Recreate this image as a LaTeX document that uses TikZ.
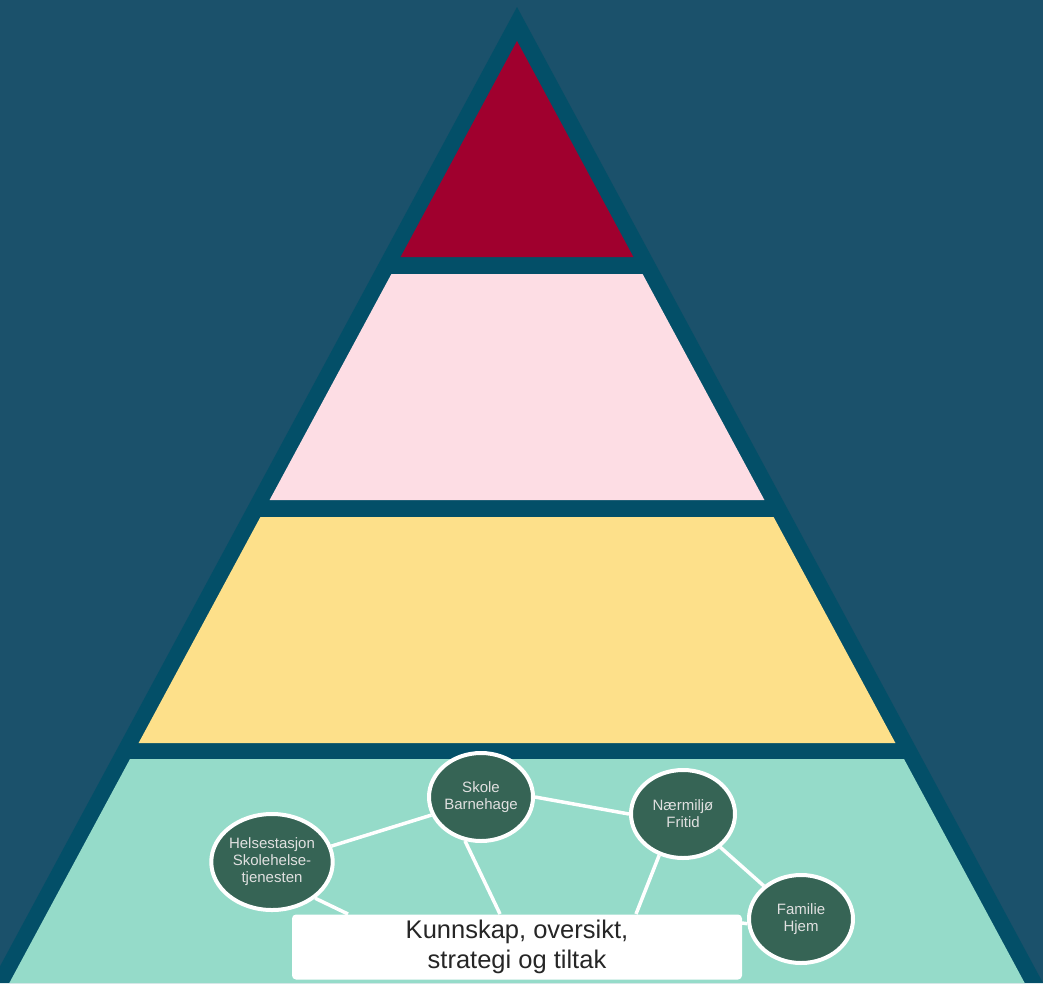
\documentclass[tikz,border=0pt]{standalone}
\usepackage{fontspec}
\setmainfont{Liberation Sans}
\usepackage{tikz}
\usetikzlibrary{shapes.geometric}
\definecolor{bgblue}{RGB}{27 81 107}
\definecolor{darkteal}{RGB}{3 79 104}
\definecolor{topred}{RGB}{160 0 46}
\definecolor{lightpink}{RGB}{253 221 228}
\definecolor{softyellow}{RGB}{253 224 138}
\definecolor{mint}{RGB}{149 219 201}
\definecolor{darkgreen}{RGB}{54 100 85}
\definecolor{textgrey}{RGB}{38 38 38}
\tikzstyle{actor} = [ellipse, minimum width=104, minimum height=88, inner sep=0, draw=white, line width=4, fill=darkgreen, text=white!88!black, align=center, font=\fontsize{15}{17}\selectfont]
\tikzstyle{infobox} = [rectangle, rounded corners=4, minimum width=450, minimum height=65, inner sep=0, fill=white, text=textgrey, align=center, font=\fontsize{25.5}{30}\selectfont]
\tikzstyle{link} = [draw=white, line width=3.5]
\begin{document}
\begin{tikzpicture}[x=1pt, y=-1pt]
        \useasboundingbox (0,0) rectangle (1043,983);
        \fill [bgblue] (0,0) rectangle (1043,983);
        \fill [darkteal] (517,7) -- (1043,983) -- (-9,983) -- cycle;
        \fill [topred] (517,41) -- (633.4,257) -- (400.6,257) -- cycle;
        \fill [lightpink] (391.4,274) -- (642.6,274) -- (764.4,500) -- (269.6,500) -- cycle;
        \fill [softyellow] (260.4,517) -- (773.6,517) -- (895.4,743) -- (138.6,743) -- cycle;
        \fill [mint] (130,759) -- (904,759) -- (1024.7,983) -- (9.3,983) -- cycle;
        \node (helse) [actor, minimum width=106, minimum height=96] at (272,862) {Helsestasjon\\Skolehelse-\\tjenesten};
        \node (skole) [actor] at (481,797) {Skole\\Barnehage};
        \node (naer) [actor] at (683,814) {Nærmiljø\\Fritid};
        \node (familie) [actor] at (801,919) {Familie\\Hjem};
        \node (info) [infobox] at (517,947) {Kunnskap, oversikt,\\strategi og tiltak};
        \coordinate (hb) at (348,914);
        \coordinate (sb) at (500,914);
        \coordinate (nb) at (636,914);
        \coordinate (fb) at (742,923);
        \draw [link] (helse.15) -- (skole.200);
        \draw [link] (skole.east) -- (naer.west);
        \draw [link] (naer) -- (familie);
        \draw [link] (helse.-40) -- (hb);
        \draw [link] (skole.-110) -- (sb);
        \draw [link] (naer.-120) -- (nb);
        \draw [link] (familie.185) -- (fb);
    \end{tikzpicture}
\end{document}
